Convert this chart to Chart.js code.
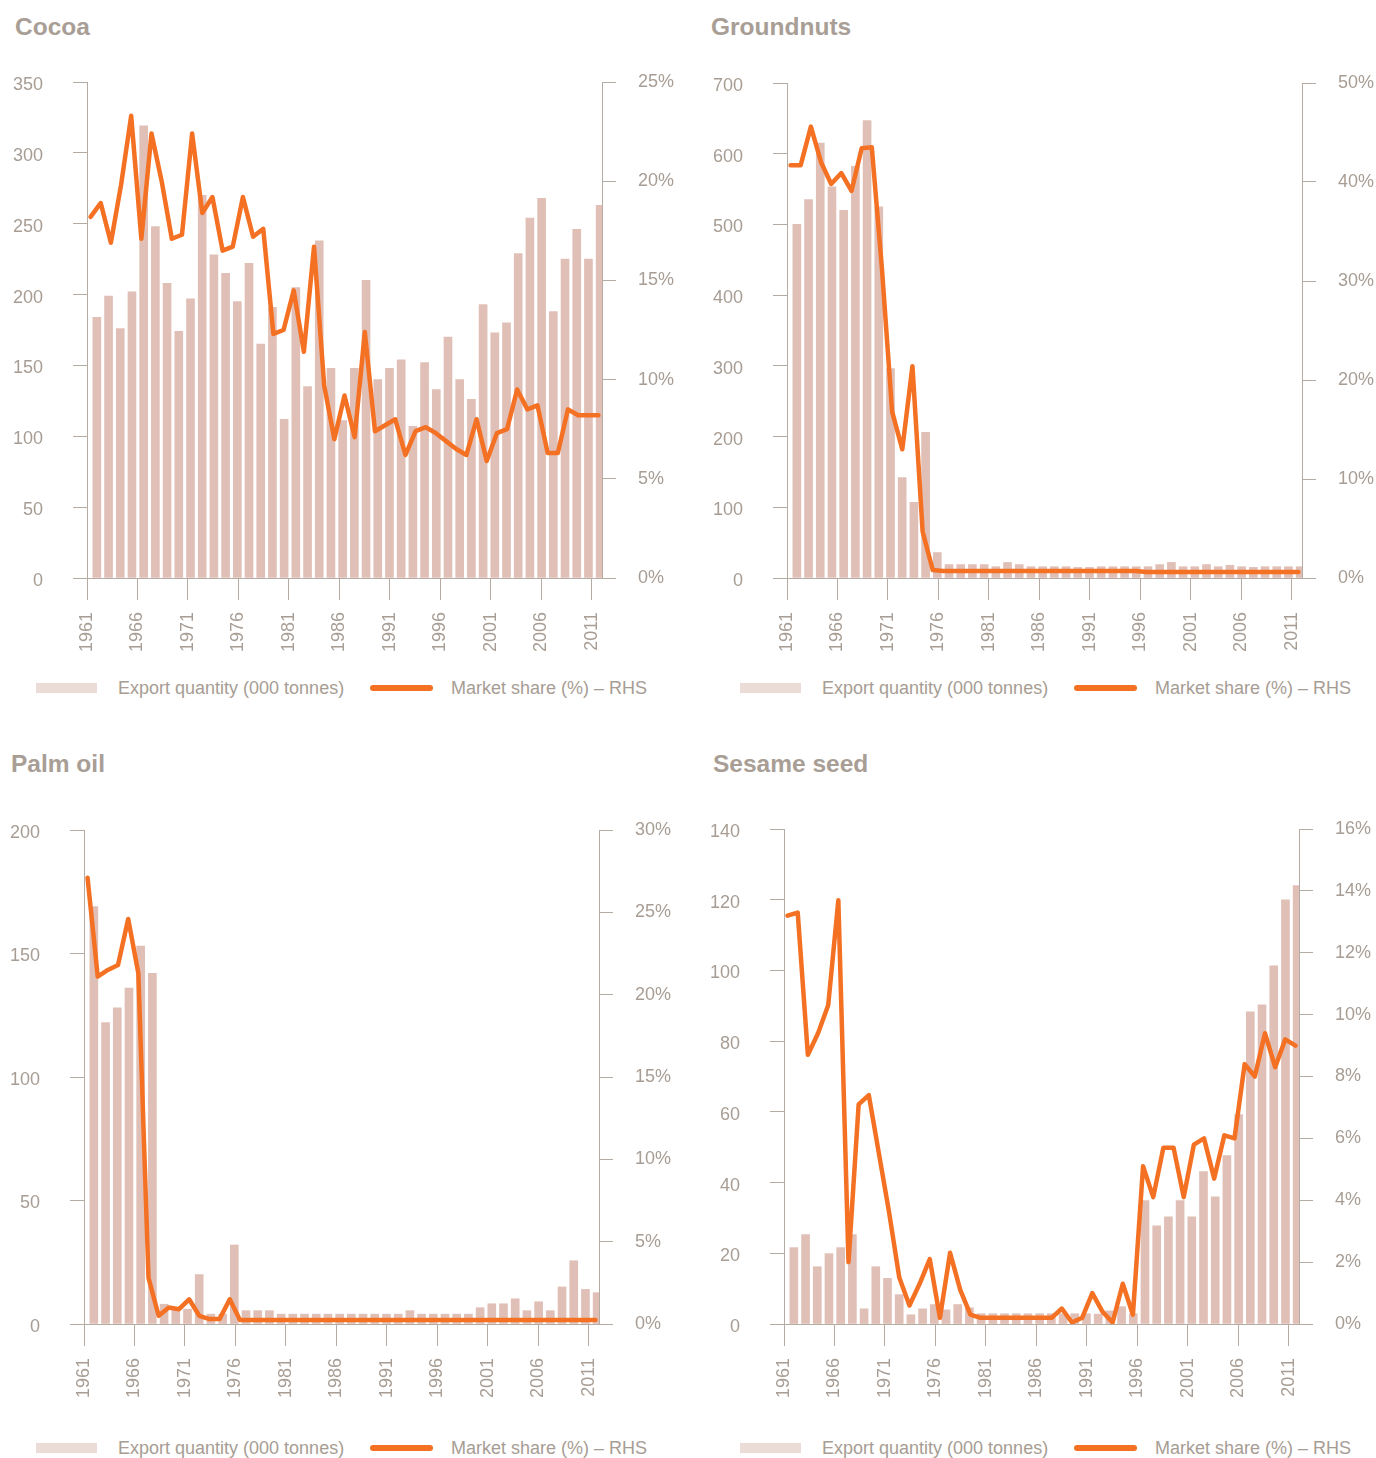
<!DOCTYPE html>
<html>
<head>
<meta charset="utf-8">
<script src="https://cdn.jsdelivr.net/npm/chart.js@4"></script>
<style>
  body { margin: 0; background: #fff; width: 1376px; height: 1458px; position: relative; overflow: hidden;
         font-family: "Liberation Sans", Arial, sans-serif; color: #a79d94; }
  canvas { position: absolute; }
  .title { position: absolute; font-size: 24.5px; font-weight: bold; color: #a89e95; line-height: 28px; }
  .lg { position: absolute; font-size: 18px; line-height: 20px; white-space: nowrap; }
  .sw-bar { position: absolute; width: 61px; height: 10px; background: #ebdcd8; }
  .sw-line { position: absolute; width: 63px; height: 6px; border-radius: 3px; background: #f47023; }
</style>
</head>
<body>
<script>
// years on the axis, bar slots, line years
const tickYears = [1961, 1966, 1971, 1976, 1981, 1986, 1991, 1996, 2001, 2006, 2011];
const shareYears = Array.from({ length: 51 }, (_, i) => 1961 + i);
const barSlots = Array.from({ length: 44 }, (_, i) => i + 1);

// Cocoa
const cocoaExports = [184, 199, 176, 202, 319, 248, 208, 174, 197, 270, 228, 215, 195, 222, 165, 191, 112, 205, 135, 238,
  148, 111, 148, 210, 140, 148, 154, 107, 152, 133, 170, 140, 126, 193, 173, 180, 229, 254, 268, 188, 225, 246, 225, 263];
const cocoaShare = [18.2, 18.9, 16.9, 19.8, 23.3, 17.1, 22.4, 20.0, 17.1, 17.3, 22.4, 18.4, 19.2, 16.5, 16.7, 19.2, 17.2,
  17.6, 12.3, 12.5, 14.5, 11.4, 16.7, 9.7, 7.0, 9.2, 7.1, 12.4, 7.4, 7.7, 8.0, 6.2, 7.4, 7.6, 7.3, 6.9, 6.5, 6.2, 8.0, 5.9,
  7.3, 7.5, 9.5, 8.5, 8.7, 6.3, 6.3, 8.5, 8.2, 8.2, 8.2];

// Groundnuts
const groundnutExports = [500, 535, 615, 553, 520, 582, 647, 525, 296, 142, 107, 206, 36, 19, 19, 19, 19, 16, 22, 19, 16, 16,
  16, 16, 15, 15, 16, 16, 16, 16, 16, 19, 22, 16, 16, 19, 16, 18, 16, 15, 16, 16, 16, 16];
const groundnutShare = [41.7, 41.7, 45.6, 42.0, 39.8, 40.9, 39.1, 43.4, 43.5, 31.2, 16.8, 13.0, 21.4, 4.7, 0.8, 0.7, 0.7,
  0.7, 0.7, 0.7, 0.7, 0.7, 0.7, 0.7, 0.7, 0.7, 0.7, 0.7, 0.7, 0.7, 0.7, 0.7, 0.7, 0.7, 0.7, 0.6, 0.6, 0.6, 0.6, 0.6, 0.6,
  0.6, 0.6, 0.6, 0.6, 0.6, 0.6, 0.6, 0.6, 0.6, 0.6];

// Palm oil
const palmExports = [169, 122, 128, 136, 153, 142, 8, 6, 6, 20, 4, 4, 32, 5.4, 5.4, 5.4, 4, 4, 4, 4, 4, 4, 4, 4, 4, 4, 4,
  5.4, 4, 4, 4, 4, 4, 6.6, 8.2, 8.2, 10.2, 5.4, 9, 5.4, 15, 25.6, 14, 12.7];
const palmShare = [27.1, 21.1, 21.5, 21.8, 24.6, 21.3, 2.8, 0.5, 1.0, 0.9, 1.5, 0.5, 0.3, 0.3, 1.5, 0.25, 0.25, 0.25,
  0.25, 0.25, 0.25, 0.25, 0.25, 0.25, 0.25, 0.25, 0.25, 0.25, 0.25, 0.25, 0.25, 0.25, 0.25, 0.25, 0.25, 0.25, 0.25, 0.25,
  0.25, 0.25, 0.25, 0.25, 0.25, 0.25, 0.25, 0.25, 0.25, 0.25, 0.25, 0.25, 0.25];

// Sesame seed
const sesameExports = [21.6, 25.3, 16.2, 19.9, 21.6, 25.3, 4.3, 16.2, 12.9, 8.3, 2.6, 4.3, 5.5, 4, 5.5, 4.6, 2.9, 2.9,
  2.9, 2.9, 2.9, 2.9, 2.9, 2.9, 2.9, 2.9, 2.8, 3.7, 4.9, 2.9, 34.9, 27.8, 30.3, 34.9, 30.3, 43.1, 36, 47.6, 59.2, 88.3,
  90.3, 101.3, 120, 124];
const sesameShare = [13.2, 13.3, 8.7, 9.4, 10.3, 13.7, 2.0, 7.1, 7.4, 5.5, 3.6, 1.5, 0.6, 1.3, 2.1, 0.2, 2.3, 1.1, 0.3,
  0.2, 0.2, 0.2, 0.2, 0.2, 0.2, 0.2, 0.2, 0.5, 0.05, 0.2, 1.0, 0.4, 0.05, 1.3, 0.3, 5.1, 4.1, 5.7, 5.7, 4.1, 5.8, 6.0,
  4.7, 6.1, 6.0, 8.4, 8.0, 9.4, 8.3, 9.2, 9.0];

const AXIS = '#b4aba3';
const TEXT = '#a79d94';
Chart.defaults.font.family = '"Liberation Sans", Arial, sans-serif';
Chart.defaults.font.size = 18;
Chart.defaults.color = TEXT;

const panels = [
  { title: 'Cocoa', ox: 0, tx: 15, ty: 13, plot: { l: 87, r: 602, t: 82, b: 578 }, legY: 688,
    bars: cocoaExports, share: cocoaShare, yMax: 350, yStep: 50, rMax: 25, rStep: 5 },
  { title: 'Groundnuts', ox: 688, tx: 711, ty: 13, plot: { l: 787, r: 1302, t: 83, b: 578 }, legY: 688,
    bars: groundnutExports, share: groundnutShare, yMax: 700, yStep: 100, rMax: 50, rStep: 10 },
  { title: 'Palm oil', ox: 0, tx: 11, ty: 750, plot: { l: 84, r: 599, t: 830, b: 1324 }, legY: 1448,
    bars: palmExports, share: palmShare, yMax: 200, yStep: 50, rMax: 30, rStep: 5 },
  { title: 'Sesame seed', ox: 688, tx: 713, ty: 750, plot: { l: 784, r: 1299, t: 829, b: 1324 }, legY: 1448,
    bars: sesameExports, share: sesameShare, yMax: 140, yStep: 20, rMax: 16, rStep: 2 }
];

// TOPPAD must exceed half a label height plus the y tick padding
const PW = 688, TOPPAD = 44, XH = 92, YEARPAD = 0.35;

panels.forEach(p => {
  const t = document.createElement('div');
  t.className = 'title';
  t.style.left = p.tx + 'px';
  t.style.top = p.ty + 'px';
  t.textContent = p.title;
  document.body.appendChild(t);

  // legend
  const lx = p.ox === 0 ? 0 : 704;
  const items = [
    ['sw-bar', 36, p.legY - 5], ['lg', 118, p.legY - 10, 'Export quantity (000 tonnes)'],
    ['sw-line', 370, p.legY - 3], ['lg', 451, p.legY - 10, 'Market share (%) – RHS']
  ];
  items.forEach(it => {
    const d = document.createElement('div');
    d.className = it[0];
    d.style.left = (lx + it[1]) + 'px';
    d.style.top = it[2] + 'px';
    if (it[3]) d.textContent = it[3];
    document.body.appendChild(d);
  });

  const cv = document.createElement('canvas');
  const H = p.plot.b - p.plot.t + TOPPAD + XH;
  cv.width = PW;
  cv.height = H;
  cv.style.left = p.ox + 'px';
  cv.style.top = (p.plot.t - TOPPAD) + 'px';
  document.body.appendChild(cv);

  const tickGrid = len => ({ display: true, drawOnChartArea: false, drawTicks: true, offset: false, tickLength: len, color: AXIS, lineWidth: 1 });

  new Chart(cv, {
    type: 'line',
    data: {
      datasets: [
        {
          label: 'Market share (%) – RHS',
          data: shareYears.map((y, i) => ({ x: y, y: p.share[i] })),
          borderColor: '#f47023',
          borderWidth: 4.5,
          borderJoinStyle: 'round',
          borderCapStyle: 'round',
          pointRadius: 0,
          tension: 0,
          xAxisID: 'xl',
          yAxisID: 'y2',
          order: 1
        },
        {
          type: 'bar',
          label: 'Export quantity (000 tonnes)',
          data: p.bars,
          backgroundColor: '#e0bfb7',
          barThickness: 8,
          xAxisID: 'xb',
          yAxisID: 'y',
          order: 2
        }
      ]
    },
    options: {
      responsive: false,
      animation: false,
      devicePixelRatio: 1,
      layout: { padding: { top: TOPPAD, left: 0, right: 0, bottom: 0 } },
      plugins: { legend: { display: false }, tooltip: { enabled: false } },
      scales: {
        x: {
          type: 'linear',
          position: 'bottom',
          offset: false,
          min: 1961,
          max: 2012,
          afterBuildTicks: s => { s.ticks = tickYears.map(v => ({ value: v })); },
          afterFit: s => { s.height = XH; },
          ticks: { autoSkip: false, minRotation: 90, maxRotation: 90, padding: 12, callback: v => String(v) },
          grid: tickGrid(22),
          border: { display: true, color: AXIS }
        },
        xl: { type: 'linear', display: false, offset: false, min: 1961 - YEARPAD, max: 2011 + YEARPAD },
        xb: { type: 'category', display: false, labels: barSlots, offset: true },
        y: {
          position: 'left',
          min: 0,
          max: p.yMax,
          afterFit: s => { s.width = p.plot.l - p.ox; },
          ticks: { stepSize: p.yStep, padding: 30, labelOffset: 3 },
          grid: tickGrid(14),
          border: { display: true, color: AXIS }
        },
        y2: {
          position: 'right',
          min: 0,
          max: p.rMax,
          afterFit: s => { s.width = p.ox + PW - p.plot.r; },
          ticks: { stepSize: p.rStep, padding: 22, callback: v => v + '%' },
          grid: tickGrid(14),
          border: { display: true, color: AXIS }
        }
      }
    }
  });
});
</script>
</body>
</html>
